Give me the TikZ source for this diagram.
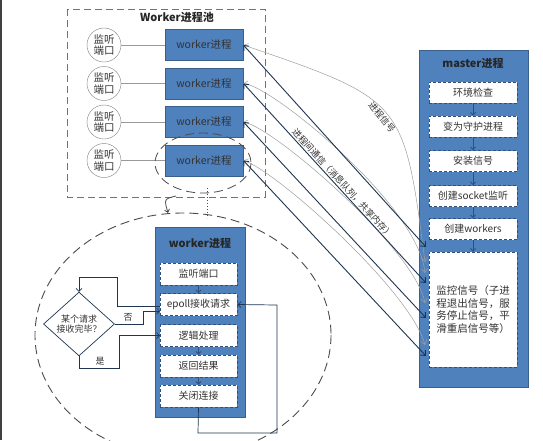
\documentclass[tikz,border=0pt]{standalone}
\usepackage{fontspec}
\setmainfont{Noto Sans CJK SC}
\usetikzlibrary{arrows.meta,shapes.geometric}
\definecolor{bfill}{HTML}{4F81BD}
\definecolor{bline}{HTML}{3A5F8B}
\definecolor{dline}{HTML}{1F3552}
\definecolor{dashblue}{HTML}{2F4F7F}
\definecolor{txt}{HTML}{333333}
\tikzset{
  wbox/.style={draw=bline, fill=bfill, line width=0.8pt, minimum width=78pt, minimum height=31pt, inner sep=0pt, font=\fontsize{10.5}{12}\selectfont, text=txt},
  ibox/.style={draw=dashblue, fill=white, line width=0.9pt, dash pattern=on 3pt off 2pt, minimum width=88pt, minimum height=21pt, inner sep=0pt, font=\fontsize{10}{12}\selectfont, text=txt},
  lbox/.style={ibox, minimum width=77pt, minimum height=22pt},
  lport/.style={circle, draw=gray, fill=white, minimum size=34pt, inner sep=0pt, font=\fontsize{10.5}{11.5}\selectfont, align=center, text=txt},
  darr/.style={draw=dline, line width=0.9pt, {Straight Barb[length=4pt,width=7pt]}-{Straight Barb[length=4pt,width=7pt]}},
  garr/.style={draw=gray!75, line width=0.5pt, {Straight Barb[length=4pt,width=6pt]}-{Straight Barb[length=4pt,width=6pt]}},
  flow/.style={draw=dline, line width=0.7pt, -{Straight Barb[length=3pt,width=6pt]}},
  sarr/.style={draw=dashblue, line width=0.8pt, -{Straight Barb[length=2.5pt,width=5pt]}},
  bigdash/.style={draw=black!70, line width=0.9pt, dash pattern=on 9pt off 5pt},
  title/.style={font=\fontsize{11}{13}\selectfont\bfseries, text=black!85},
  lbl/.style={font=\fontsize{9}{11}\selectfont, text=txt},
}
\begin{document}
\begin{tikzpicture}[x=1pt,y=-1pt]
\useasboundingbox (0,0) rectangle (543,440);
\fill[white] (0,0) rectangle (543,440);
\draw[black!75, line width=1.2pt] (1,0) -- (1,440);

% ---------- worker pool ----------
\draw[draw=black!55, line width=0.8pt, dash pattern=on 7pt off 4pt] (67,9) rectangle (265,197);
\node[title] (pooltitle) at (177,17) {Worker进程池};

\foreach \i/\y in {1/45,2/83.5,3/122,4/160.5}{
  \node[wbox] (w\i) at (204,\y) {worker进程};
  \node[lport] (p\i) at (104,\y) {监听\\端口};
  \draw[gray!80, line width=0.7pt] (p\i) -- (w\i);
}

% small dashed ellipse around worker 4
\draw[bigdash, line width=0.8pt] (203,163) ellipse [x radius=48, y radius=30];
\coordinate (ca) at (176,196);
\coordinate (cb) at (168,213);
\draw[black!70, line width=0.8pt, -{Straight Barb[length=3pt,width=5pt]}] (ca) .. controls (164,199) .. (cb);
\coordinate (da) at (207,188);
\coordinate (db) at (207,218);
\draw[black!70, line width=1pt, dotted] (da) -- (db);

% ---------- master ----------
\node[draw=bline, fill=bfill, line width=0.8pt, minimum width=109pt, minimum height=337pt, anchor=north west, inner sep=0pt] (master) at (419,50) {};
\node[title] (mtitle) at (473,63) {master进程};
\node[ibox] (m1) at (473,92.5) {环境检查};
\node[ibox] (m2) at (473,126.5) {变为守护进程};
\node[ibox] (m3) at (473,161) {安装信号};
\node[ibox] (m4) at (473,196) {创建socket监听};
\node[ibox] (m5) at (473,229) {创建workers};
\node[ibox, minimum height=115pt, align=center, font=\fontsize{10.5}{12.5}\selectfont] (m6) at (473,309.5) {监控信号（子进\\程退出信号，服\\务停止信号，平\\滑重启信号等）};
\draw[sarr] (m1) -- (m2);
\draw[sarr] (m2) -- (m3);
\draw[sarr] (m3) -- (m4);
\draw[sarr] (m4) -- (m5);
\draw[sarr] (m5) -- (m6);

% connection points on master
\coordinate (d1) at (426,247);
\coordinate (d2) at (426,283);
\coordinate (d3) at (426,318);
\coordinate (d4) at (426,356);
\coordinate (g1) at (425,262);
\coordinate (g2) at (425,273);
\coordinate (g3) at (425,303);
\coordinate (g4) at (425,345);

% gray signal curves
\draw[garr] (w1.east) .. controls (404,100) .. node[lbl, pos=0.5, below, sloped, inner sep=1.5pt] {进程信号} (g1);
\draw[garr] (w2.east) .. controls (272,86) and (418,205) .. (g2);
\draw[garr] (w3.east) .. controls (275,128) and (415,250) .. (g3);
\draw[garr] (w4.east) .. controls (275,170) and (410,290) .. (g4);

% dark IPC lines
\draw[darr] (w1.east) -- (d1);
\draw[darr] (w2.east) -- node[lbl, pos=0.52, above, sloped, inner sep=1pt] {进程间通信（消息队列，共享内存）} (d2);
\draw[darr] (w3.east) -- (d3);
\draw[darr] (w4.east) -- (d4);

% ---------- detail ellipse ----------
\draw[bigdash] (183,335) ellipse [x radius=148, y radius=122];

\node[draw=bline, fill=bfill, line width=0.8pt, minimum width=90pt, minimum height=190pt, inner sep=0pt] (lw) at (200,322) {};
\node[title] (lwtitle) at (200,243) {worker进程};
\node[lbox] (l1) at (198.5,274) {监听端口};
\node[lbox] (l2) at (198.5,304.5) {epoll接收请求};
\node[lbox] (l3) at (198.5,335.5) {逻辑处理};
\node[lbox] (l4) at (198.5,366) {返回结果};
\node[lbox] (l5) at (198.5,396) {关闭连接};
\draw[sarr] (l1) -- (l2);
\draw[sarr] (l3) -- (l4);
\draw[sarr] (l4) -- (l5);

\node[diamond, draw=dline, line width=0.7pt, fill=white, minimum width=71pt, minimum height=48pt, inner sep=0pt, align=center, font=\fontsize{9}{10.5}\selectfont, text=txt] (dec) at (79,324) {某个请求\\接收完毕？};

\coordinate (e1) at (160,306);
\draw[flow] (e1) -- (117,306) -- (117,277) -- (79,277) -- (dec.north);
\coordinate (e2) at (160,311);
\draw[flow] (dec.east) -- (143,324) -- (143,311) -- (e2);
\node[lbl] (no) at (128,317) {否};
\coordinate (e3) at (160,335.5);
\draw[flow] (dec.south) -- (79,368) -- (119,368) -- (119,335.5) -- (e3);
\node[lbl] (yes) at (100,361) {是};

\draw[flow] (l5.south) -- (198,433) -- (277,433) -- (277,305) -- (l2.east);
\end{tikzpicture}
\end{document}
